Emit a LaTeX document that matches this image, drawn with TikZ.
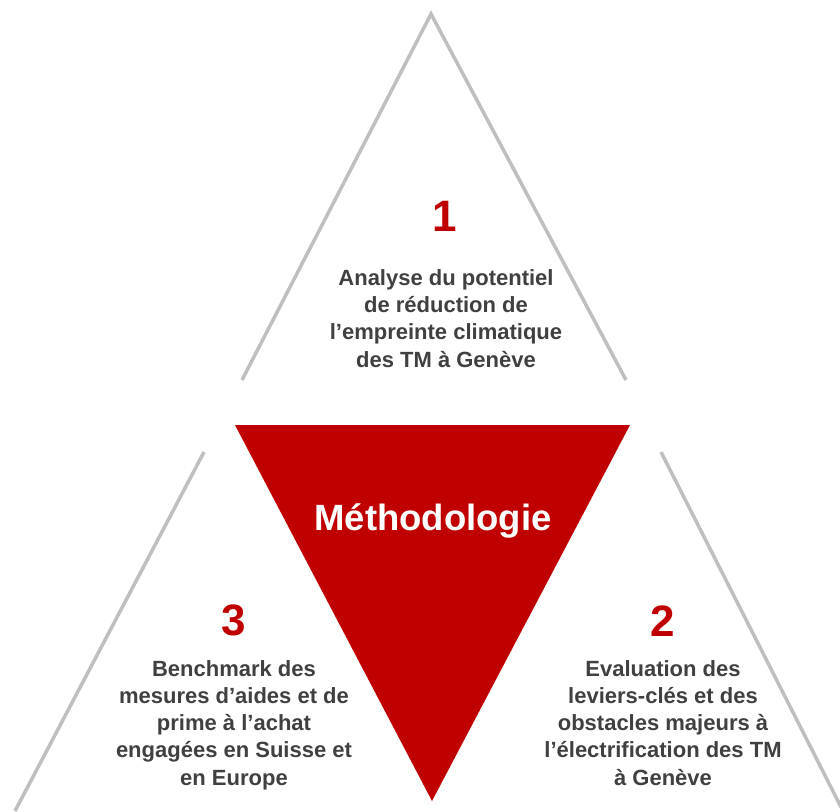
\documentclass[tikz,border=0pt]{standalone}
\usepackage{fontspec}
\setmainfont{Liberation Sans}
\definecolor{tred}{HTML}{C00000}
\definecolor{tgray}{HTML}{BFBFBF}
\definecolor{ttext}{HTML}{404040}
\tikzset{
  side/.style={draw=tgray, line width=3.5pt},
  redtri/.style={fill=tred, draw=none},
  num/.style={text=tred, font=\fontsize{44}{44}\selectfont\bfseries, inner sep=0pt, anchor=base},
  body/.style={text=ttext, font=\fontsize{22}{27.2}\selectfont\bfseries, align=center, inner sep=0pt, anchor=base},
  title/.style={text=white, font=\fontsize{36.5}{40}\selectfont\bfseries, inner sep=0pt, anchor=base}
}
\begin{document}
\begin{tikzpicture}[x=1pt,y=-1pt]
\useasboundingbox (0,0) rectangle (840,811);
\clip (0,0) rectangle (840,811);
% top triangle
\coordinate (tA) at (431,14);
\coordinate (tL) at (242,380);
\coordinate (tR) at (626,380);
\draw[side] (tL) -- (tA) -- (tR);
% left and right sides
\coordinate (lT) at (204,452);
\coordinate (lB) at (15,811);
\coordinate (rT) at (661,452);
\coordinate (rB) at (843,811);
\draw[side] (lT) -- (lB);
\draw[side] (rT) -- (rB);
% red inverted triangle
\coordinate (mL) at (235,425);
\coordinate (mR) at (630,425);
\coordinate (mB) at (432,801);
\fill[redtri] (mL) -- (mR) -- (mB) -- cycle;
\node[title] (meth) at (433,530) {Méthodologie};
% texts
\node[num] (n1) at (445,231) {1};
\node[body] (t1) at (446,367) {Analyse du potentiel\\de réduction de\\l’empreinte climatique\\des TM à Genève};
\node[num] (n3) at (234,635) {3};
\node[body] (t3) at (234,785) {Benchmark des\\mesures d’aides et de\\prime à l’achat\\engagées en Suisse et\\en Europe};
\node[num] (n2) at (663,636) {2};
\node[body] (t2) at (663,785) {Evaluation des\\leviers-clés et des\\obstacles majeurs à\\l’électrification des TM\\à Genève};
\end{tikzpicture}
\end{document}
